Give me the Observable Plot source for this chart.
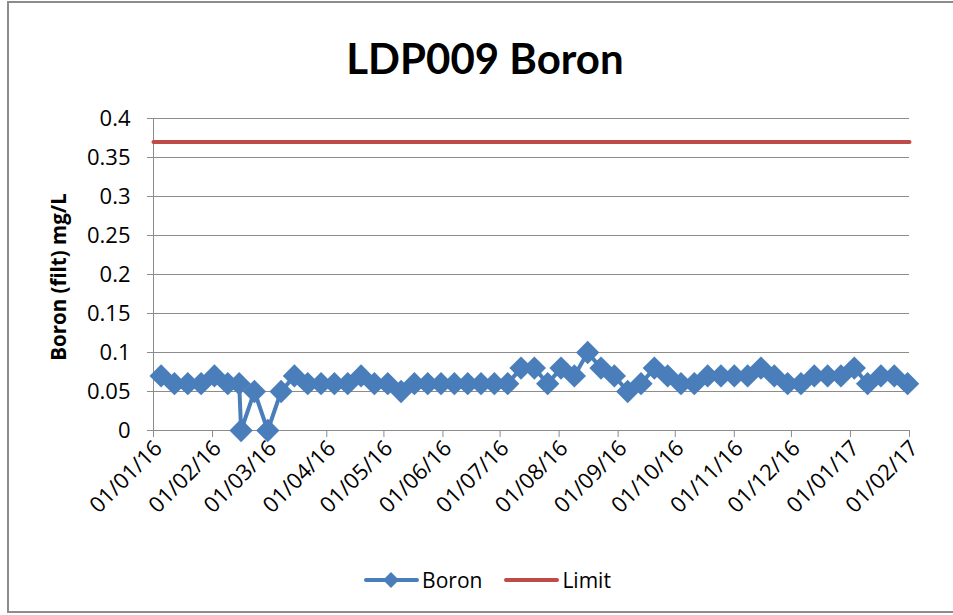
<!DOCTYPE html>
<html>
<head>
<meta charset="utf-8">
<script src="https://cdn.jsdelivr.net/npm/d3@7"></script>
<script src="https://cdn.jsdelivr.net/npm/@observablehq/plot@0.6"></script>
<style>
  html, body { margin: 0; padding: 0; background: #fff; }
  #chart { position: relative; width: 953px; height: 615px; overflow: hidden; background: #fff; }
  #frame { position: absolute; left: 7px; top: 1px; width: 960px; height: 612px; border: 2px solid #8c8c8c; box-sizing: border-box; }
  #title { position: absolute; left: 8px; width: 954px; top: 37px; text-align: center; font-family: Lato, sans-serif; font-weight: bold; font-size: 42px; line-height: 1; color: #000; }
  #ylabel { position: absolute; left: 58px; top: 277px; transform: translate(-50%, -50%) rotate(-90deg); white-space: nowrap; font-family: 'Open Sans', sans-serif; font-weight: bold; font-size: 20.5px; color: #000; }
  #plot { position: absolute; left: 0; top: 100px; }
  #legend { position: absolute; left: 0; width: 953px; top: 566px; display: flex; justify-content: center; align-items: center; font-family: 'Open Sans', sans-serif; font-size: 21px; color: #000; padding-left: 22px; box-sizing: border-box; }
  .item { display: flex; align-items: center; margin: 0 11px; }
  .item svg { margin-right: 3px; }
</style>
</head>
<body>
<div id="chart">
  <div id="frame"></div>
  <div id="title">LDP009 Boron</div>
  <div id="ylabel">Boron (filt) mg/L</div>
  <div id="plot"></div>
  <div id="legend"></div>
</div>
<script>
// ---- Data ----
const sampleDates = [
  "2016-01-05","2016-01-12","2016-01-19","2016-01-26","2016-02-02","2016-02-09","2016-02-15","2016-02-16",
  "2016-02-23","2016-03-01","2016-03-08","2016-03-15","2016-03-22","2016-03-29","2016-04-05","2016-04-12",
  "2016-04-19","2016-04-26","2016-05-03","2016-05-10","2016-05-17","2016-05-24","2016-05-31","2016-06-07",
  "2016-06-14","2016-06-21","2016-06-28","2016-07-05","2016-07-12","2016-07-19","2016-07-26","2016-08-02",
  "2016-08-09","2016-08-16","2016-08-23","2016-08-30","2016-09-06","2016-09-13","2016-09-20","2016-09-27",
  "2016-10-04","2016-10-11","2016-10-18","2016-10-25","2016-11-01","2016-11-08","2016-11-15","2016-11-22",
  "2016-11-29","2016-12-06","2016-12-13","2016-12-20","2016-12-27","2017-01-03","2017-01-10","2017-01-17",
  "2017-01-24","2017-01-31"
];
const boronValues = [
  0.07,0.06,0.06,0.06,0.07,0.06,0.06,0,
  0.05,0,0.05,0.07,0.06,0.06,0.06,0.06,
  0.07,0.06,0.06,0.05,0.06,0.06,0.06,0.06,
  0.06,0.06,0.06,0.06,0.08,0.08,0.06,0.08,
  0.07,0.1,0.08,0.07,0.05,0.06,0.08,0.07,
  0.06,0.06,0.07,0.07,0.07,0.07,0.08,0.07,
  0.06,0.06,0.07,0.07,0.07,0.08,0.06,0.07,
  0.07,0.06
];
const limitDates = ["2016-01-01","2017-02-01"];
const limitValues = [0.37, 0.37];
const xTickDates = [
  "2016-01-01","2016-02-01","2016-03-01","2016-04-01","2016-05-01","2016-06-01","2016-07-01",
  "2016-08-01","2016-09-01","2016-10-01","2016-11-01","2016-12-01","2017-01-01","2017-02-01"
];
const yTicks = [0, 0.05, 0.1, 0.15, 0.2, 0.25, 0.3, 0.35, 0.4];
const seriesNames = ["Boron", "Limit"];
const seriesColors = ["#4A7EBB", "#BE4B48"];

// ---- Build ----
const parse = d3.utcParse("%Y-%m-%d");
const boron = sampleDates.map((d, i) => ({date: parse(d), value: boronValues[i]}));
const limit = limitDates.map((d, i) => ({date: parse(d), value: limitValues[i]}));
const xTicks = xTickDates.map(parse);
const gridColor = "#8c8c8c";

const chart = Plot.plot({
  width: 953,
  height: 420,
  marginLeft: 153,
  marginRight: 44,
  marginTop: 18,
  marginBottom: 90,
  style: {fontFamily: "'Open Sans', sans-serif", fontSize: "21px", color: "#000", background: "transparent", overflow: "visible"},
  x: {type: "utc", domain: [xTicks[0], xTicks[xTicks.length - 1]]},
  y: {domain: [0, 0.4]},
  marks: [
    Plot.gridY(yTicks, {stroke: gridColor, strokeOpacity: 1}),
    Plot.ruleX([xTicks[0]], {stroke: gridColor}),
    Plot.ruleY([0], {stroke: gridColor}),
    Plot.axisY(yTicks, {tickSize: 6, tickPadding: 17, stroke: gridColor, tickFormat: d => String(+d.toFixed(2)), label: null, fontSize: 22}),
    // tick marks only
    Plot.axisX(xTicks, {tickSize: 7, stroke: gridColor, tickFormat: () => "", label: null}),
    // rotated labels only
    Plot.axisX(xTicks, {tickSize: 0, tickPadding: 11, tickRotate: -45, dx: 5, dy: 3, tickFormat: d3.utcFormat("%d/%m/%y"), label: null, fontSize: 22}),
    Plot.line(limit, {x: "date", y: "value", stroke: seriesColors[1], strokeWidth: 4}),
    Plot.line(boron, {x: "date", y: "value", stroke: seriesColors[0], strokeWidth: 4}),
    Plot.dot(boron, {x: "date", y: "value", symbol: "diamond2", r: 10.5, fill: seriesColors[0], stroke: "none"})
  ]
});
document.getElementById("plot").appendChild(chart);

// ---- Legend ----
const legend = document.getElementById("legend");
seriesNames.forEach((name, i) => {
  const item = document.createElement("div");
  item.className = "item";
  const marker = i === 0
    ? `<path d="M27,0 L35,8 L27,16 L19,8 Z" fill="${seriesColors[i]}"/>`
    : "";
  item.innerHTML = `<svg width="55" height="16"><line x1="2" x2="53" y1="8" y2="8" stroke="${seriesColors[i]}" stroke-width="4" stroke-linecap="round"/>${marker}</svg><span>${name}</span>`;
  legend.appendChild(item);
});
</script>
</body>
</html>
